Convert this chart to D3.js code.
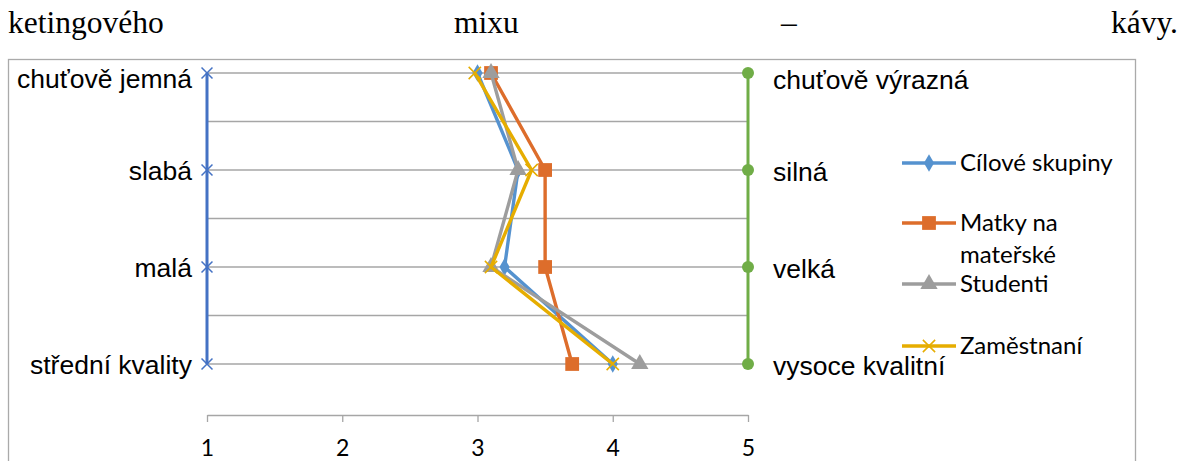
<!doctype html>
<html lang="cs">
<head>
    <meta charset="utf-8" />
    <title>Profil marketingového mixu – kávy</title>
    <style>
        body { margin: 0; background: #fff; }
        svg { display: block; }
    </style>
</head>
<body>
    <svg id="chart"></svg>

    <script src="https://cdn.jsdelivr.net/npm/d3@7"></script>
    <script>
        // data
        const leftLabels = ["chuťově jemná", "slabá", "malá", "střední kvality"];
        const rightLabels = ["chuťově výrazná", "silná", "velká", "vysoce kvalitní"];
        const seriesNames = ["Cílové skupiny", "Matky na\nmateřské", "Studenti", "Zaměstnaní"];
        const cilove = [3.0, 3.3, 3.2, 4.0];
        const matky = [3.1, 3.5, 3.5, 3.7];
        const studenti = [3.1, 3.3, 3.1, 4.2];
        const zamestnani = [2.98, 3.4, 3.1, 4.0];
        const xTicks = [1, 2, 3, 4, 5];
        const titleWords = ["ketingového", "mixu", "–", "kávy."];

        const width = 1182, height = 461;
        const svg = d3.select("#chart")
            .attr("width", width)
            .attr("height", height);

        // justified line of body text above the chart
        const wordPos = [[8, "start"], [454, "start"], [781, "start"], [1178, "end"]];
        svg.append("g")
            .attr("font-family", "'Liberation Serif', 'Times New Roman', serif")
            .attr("font-size", 31.5)
            .selectAll("text")
            .data(titleWords)
            .join("text")
            .attr("x", (d, i) => wordPos[i][0])
            .attr("y", 33)
            .attr("text-anchor", (d, i) => wordPos[i][1])
            .attr("fill", "#000")
            .text(d => d);

        // chart frame
        svg.append("rect")
            .attr("x", 8.5).attr("y", 59.5)
            .attr("width", 1127).attr("height", 420)
            .attr("fill", "#fff")
            .attr("stroke", "#aaa")
            .attr("stroke-width", 1.3);

        const x = d3.scaleLinear().domain([1, 5]).range([207, 748]);
        const y = d3.scaleLinear().domain([0, 3]).range([73, 364]);

        // horizontal gridlines (rows and half rows)
        svg.append("g")
            .selectAll("line")
            .data(d3.range(0, 3.01, 0.5))
            .join("line")
            .attr("x1", x(1)).attr("x2", x(5))
            .attr("y1", d => y(d)).attr("y2", d => y(d))
            .attr("stroke", "#a6a6a6")
            .attr("stroke-width", 1.3);

        // bottom value axis
        const axis = svg.append("g")
            .attr("transform", `translate(0,${415})`)
            .call(d3.axisBottom(x).tickValues(xTicks).tickSize(7).tickSizeOuter(0).tickPadding(18).tickFormat(d3.format("d")));
        axis.select(".domain").attr("stroke", "#a6a6a6").attr("stroke-width", 1.3);
        axis.selectAll(".tick line").attr("stroke", "#a6a6a6").attr("stroke-width", 1.3);
        axis.selectAll(".tick text")
            .attr("font-family", "Lato, 'Open Sans', sans-serif")
            .attr("font-size", 23)
            .attr("fill", "#000");

        const idx = d3.range(leftLabels.length);
        const line = d3.line().x(d => x(d.v)).y(d => y(d.i));

        // left pole (value 1) and right pole (value 5)
        svg.append("path")
            .datum(idx.map(i => ({ v: 1, i })))
            .attr("d", line)
            .attr("fill", "none")
            .attr("stroke", "#4472c4")
            .attr("stroke-width", 3);
        svg.append("g")
            .selectAll("path")
            .data(idx)
            .join("path")
            .attr("transform", i => `translate(${x(1)},${y(i)})`)
            .attr("d", d3.symbol(d3.symbolX, 80))
            .attr("fill", "none")
            .attr("stroke", "#4472c4")
            .attr("stroke-width", 1.5);

        svg.append("path")
            .datum(idx.map(i => ({ v: 5, i })))
            .attr("d", line)
            .attr("fill", "none")
            .attr("stroke", "#70ad47")
            .attr("stroke-width", 3);
        svg.append("g")
            .selectAll("circle")
            .data(idx)
            .join("circle")
            .attr("cx", x(5))
            .attr("cy", i => y(i))
            .attr("r", 6)
            .attr("fill", "#70ad47");

        // pole labels
        const labelFont = "'Liberation Sans', Arial, sans-serif";
        svg.append("g")
            .attr("font-family", labelFont)
            .attr("font-size", 26.5)
            .attr("text-anchor", "end")
            .selectAll("text")
            .data(leftLabels)
            .join("text")
            .attr("x", 192)
            .attr("y", (d, i) => Math.max(y(i) + 10, 88))
            .text(d => d);
        svg.append("g")
            .attr("font-family", labelFont)
            .attr("font-size", 26.5)
            .selectAll("text")
            .data(rightLabels)
            .join("text")
            .attr("x", 773)
            .attr("y", (d, i) => Math.max(y(i) + 11, 89))
            .text(d => d);

        // series
        const series = [
            { name: seriesNames[0], values: cilove, color: "#5592cf", symbol: d3.symbolDiamond, size: 90, stroke: false },
            { name: seriesNames[1], values: matky, color: "#dd6d2b", symbol: d3.symbolSquare, size: 190, stroke: false },
            { name: seriesNames[2], values: studenti, color: "#9d9d9d", symbol: d3.symbolTriangle, size: 130, stroke: false },
            { name: seriesNames[3], values: zamestnani, color: "#e6ad00", symbol: d3.symbolX, size: 100, stroke: true }
        ];

        const sg = svg.append("g")
            .selectAll("g")
            .data(series)
            .join("g");

        sg.append("path")
            .attr("d", s => line(s.values.map((v, i) => ({ v, i }))))
            .attr("fill", "none")
            .attr("stroke", s => s.color)
            .attr("stroke-width", 3.4)
            .attr("stroke-linejoin", "round");

        sg.each(function(s) {
            d3.select(this).selectAll(".mk")
                .data(s.values)
                .join("path")
                .attr("class", "mk")
                .attr("transform", (v, i) => `translate(${x(v)},${y(i)})`)
                .attr("d", d3.symbol(s.symbol, s.size))
                .attr("fill", s.stroke ? "none" : s.color)
                .attr("stroke", s.stroke ? s.color : "none")
                .attr("stroke-width", 1.5);
        });

        // legend
        const legendY = [163, 223, 284, 346];
        const lg = svg.append("g")
            .selectAll("g")
            .data(series)
            .join("g")
            .attr("transform", (s, i) => `translate(902,${legendY[i]})`);

        lg.append("line")
            .attr("x1", 0).attr("x2", 54)
            .attr("stroke", s => s.color)
            .attr("stroke-width", 3.4);
        lg.append("path")
            .attr("transform", "translate(27,0)")
            .attr("d", s => d3.symbol(s.symbol, s.size)())
            .attr("fill", s => s.stroke ? "none" : s.color)
            .attr("stroke", s => s.stroke ? s.color : "none")
            .attr("stroke-width", 1.5);

        const lt = lg.append("text")
            .attr("x", 58)
            .attr("y", 8)
            .attr("font-family", "Lato, 'Open Sans', sans-serif")
            .attr("font-size", 24)
            .attr("fill", "#000");
        lt.selectAll("tspan")
            .data(s => s.name.split("\n"))
            .join("tspan")
            .attr("x", 58)
            .attr("dy", (d, i) => i === 0 ? 0 : 31.5)
            .text(d => d);
    </script>
</body>
</html>
